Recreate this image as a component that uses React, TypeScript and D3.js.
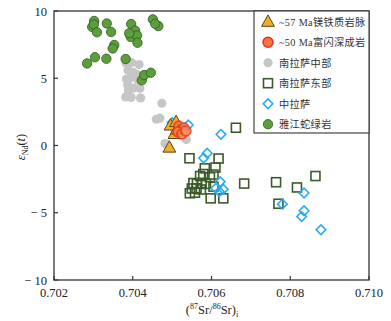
import React from "react";
import * as d3 from "d3";

type Pt = [number, number];

const triangles: Pt[] = [
  [0.70496, 1.49], [0.7051, 1.75], [0.70506, 0.86], [0.70493, -0.15], [0.70512, 1.2],
];
const redCircles: Pt[] = [
  [0.70517, 1.45], [0.70523, 1.15], [0.7053, 1.3], [0.70515, 1.0], [0.70525, 0.86], [0.70535, 1.08],
];
const grayCircles: Pt[] = [
  [0.70383, 6.13], [0.70397, 6.17], [0.70416, 6.02], [0.70388, 5.61], [0.70401, 5.43],
  [0.70411, 5.28], [0.70384, 4.94], [0.70413, 4.87], [0.70387, 4.5], [0.70418, 4.25],
  [0.70389, 4.13], [0.70382, 3.61], [0.70396, 3.57], [0.7042, 3.53], [0.70474, 3.14],
  [0.7046, 1.95], [0.70469, 2.03], [0.70482, 0.15], [0.70536, 0.45], [0.70393, 5.02],
  [0.70402, 4.27],
];
const squares: Pt[] = [
  [0.70662, 1.32], [0.70544, -0.95], [0.70618, -0.97], [0.70583, -1.7], [0.7061, -1.64],
  [0.70579, -2.12], [0.70605, -2.16], [0.70596, -2.36], [0.70571, -2.27], [0.70554, -2.79],
  [0.70563, -2.83], [0.70575, -2.79], [0.70586, -2.86], [0.70605, -3.06], [0.7055, -3.2],
  [0.70562, -3.18], [0.70573, -3.27], [0.70545, -3.55], [0.70558, -3.51], [0.70598, -3.93],
  [0.7063, -3.93], [0.70683, -2.83], [0.70764, -2.73], [0.70817, -3.12], [0.70864, -2.27],
  [0.7077, -4.33],
];
const diamonds: Pt[] = [
  [0.705, 1.7], [0.70541, 1.52], [0.70624, 0.83], [0.70589, -0.58], [0.7058, -0.93],
  [0.70622, -2.69], [0.70611, -3.18], [0.7063, -3.26], [0.7062, -3.43], [0.70835, -3.53],
  [0.7078, -4.36], [0.70835, -4.85], [0.70829, -5.28], [0.70878, -6.26],
];
const greenCircles: Pt[] = [
  [0.70284, 6.1], [0.70304, 6.56], [0.70333, 6.45], [0.70297, 8.81], [0.70302, 9.26],
  [0.70301, 9.0], [0.70309, 8.42], [0.70334, 9.07], [0.70345, 8.44], [0.70353, 7.47],
  [0.70349, 7.21], [0.70382, 6.43], [0.70396, 9.03], [0.70393, 8.25], [0.70395, 8.07],
  [0.70406, 8.54], [0.70411, 8.18], [0.70412, 7.64], [0.70423, 4.85], [0.70429, 5.24],
  [0.70446, 5.41], [0.70451, 9.38], [0.70465, 8.88], [0.70457, 9.05], [0.70391, 8.35],
];

const xTicks = [0.702, 0.704, 0.706, 0.708, 0.71];
const yTicks = [-10, -5, 0, 5, 10];
const legendLabels = [
  "~57 Ma镁铁质岩脉",
  "~50 Ma富闪深成岩",
  "南拉萨中部",
  "南拉萨东部",
  "中拉萨",
  "雅江蛇绿岩",
];

const W = 391;
const H = 321;
const m = { left: 54, right: 22, top: 11, bottom: 41 };
const serif = "'Liberation Serif', 'Noto Sans CJK SC', serif";

const C = {
  tri: "#f2aa2c", triStroke: "#5b4413",
  red: "#f47a3c", redStroke: "#ee2b24",
  gray: "#c6c6c6",
  sq: "#3d5a2b",
  dia: "#2aaaf0",
  green: "#5c9e3c", greenStroke: "#2f5a1f",
  axis: "#333",
};

const triPath = (s: number) => `M0,${-s * 0.62}L${s * 0.58},${s * 0.42}L${-s * 0.58},${s * 0.42}Z`;
const diaPath = (s: number) => `M0,${-s}L${s},0L0,${s}L${-s},0Z`;

function Marker({ kind }: { kind: number }) {
  switch (kind) {
    case 0:
      return <path d={triPath(11)} fill={C.tri} stroke={C.triStroke} strokeWidth={1} />;
    case 1:
      return <circle r={5} fill={C.red} stroke={C.redStroke} strokeWidth={1.5} />;
    case 2:
      return <circle r={4.6} fill={C.gray} />;
    case 3:
      return <rect x={-4.5} y={-4.5} width={9} height={9} fill="none" stroke={C.sq} strokeWidth={1.6} />;
    case 4:
      return <path d={diaPath(4.8)} fill="none" stroke={C.dia} strokeWidth={1.6} />;
    default:
      return <circle r={4.7} fill={C.green} stroke={C.greenStroke} strokeWidth={0.8} />;
  }
}

export default function App() {
  const x = d3.scaleLinear().domain([0.702, 0.71]).range([m.left, W - m.right]);
  const y = d3.scaleLinear().domain([-10, 10]).range([H - m.bottom, m.top]);
  const x0 = m.left, x1 = W - m.right, y0 = H - m.bottom, y1 = m.top;

  const groups: [Pt[], number, number][] = [
    [grayCircles, 2, 1],
    [greenCircles, 5, 1],
    [squares, 3, 1],
    [diamonds, 4, 1],
    [triangles, 0, 1],
    [redCircles, 1, 0.85],
  ];

  const legX = 254;
  const legY0 = 21.7;
  const legStep = 20.5;

  return (
    <svg width={W} height={H} style={{ position: "absolute", left: 0, top: 0, background: "#fff" }}
      fontFamily={serif}>
      {groups.map(([pts, kind, op], gi) => (
        <g key={gi} opacity={op}>
          {pts.map((p, i) => (
            <g key={i} transform={`translate(${x(p[0])},${y(p[1])})`}>
              <Marker kind={kind} />
            </g>
          ))}
        </g>
      ))}

      {/* frame */}
      <rect x={x0} y={y1} width={x1 - x0} height={y0 - y1} fill="none" stroke={C.axis} strokeWidth={1.3} />

      {xTicks.map((t) => (
        <g key={t}>
          <line x1={x(t)} x2={x(t)} y1={y0} y2={y0 - 4} stroke={C.axis} strokeWidth={1.2} />
          <text x={x(t)} y={297} textAnchor="middle" fontSize={12.5} fill="#222">{t.toFixed(3)}</text>
        </g>
      ))}
      {yTicks.map((t) => (
        <g key={t}>
          <line x1={x0} x2={x0 + 4} y1={y(t)} y2={y(t)} stroke={C.axis} strokeWidth={1.2} />
          <text x={47} y={y(t) + 4.5} textAnchor="end" fontSize={12.5} fill="#222">
            {t < 0 ? `− ${Math.abs(t)}` : `${t}`}
          </text>
        </g>
      ))}

      <text x={212} y={314} textAnchor="middle" fontSize={12.5} fill="#222">
        (<tspan fontSize={8} dy={-5}>87</tspan><tspan dy={5}>Sr/</tspan>
        <tspan fontSize={8} dy={-5}>86</tspan><tspan dy={5}>Sr)</tspan>
        <tspan fontSize={8} dy={3}>i</tspan>
      </text>

      <text transform={`translate(25,147) rotate(-90)`} textAnchor="middle" fontSize={12.5} fill="#222">
        <tspan fontStyle="italic">ε</tspan>
        <tspan fontSize={8} dy={3}>Nd</tspan>
        <tspan dy={-3}>(</tspan><tspan fontStyle="italic">t</tspan><tspan>)</tspan>
      </text>

      {/* legend */}
      <rect x={legX} y={y1} width={x1 - legX} height={133 - y1} fill="#fff" stroke={C.axis} strokeWidth={1.1} />
      {legendLabels.map((lab, i) => (
        <g key={lab} transform={`translate(0,${legY0 + i * legStep})`}>
          <g transform="translate(268,0)">
            <Marker kind={i} />
          </g>
          <text x={279} y={4} fontSize={10.2} fill="#333" letterSpacing={0.35}>{lab}</text>
        </g>
      ))}
    </svg>
  );
}
